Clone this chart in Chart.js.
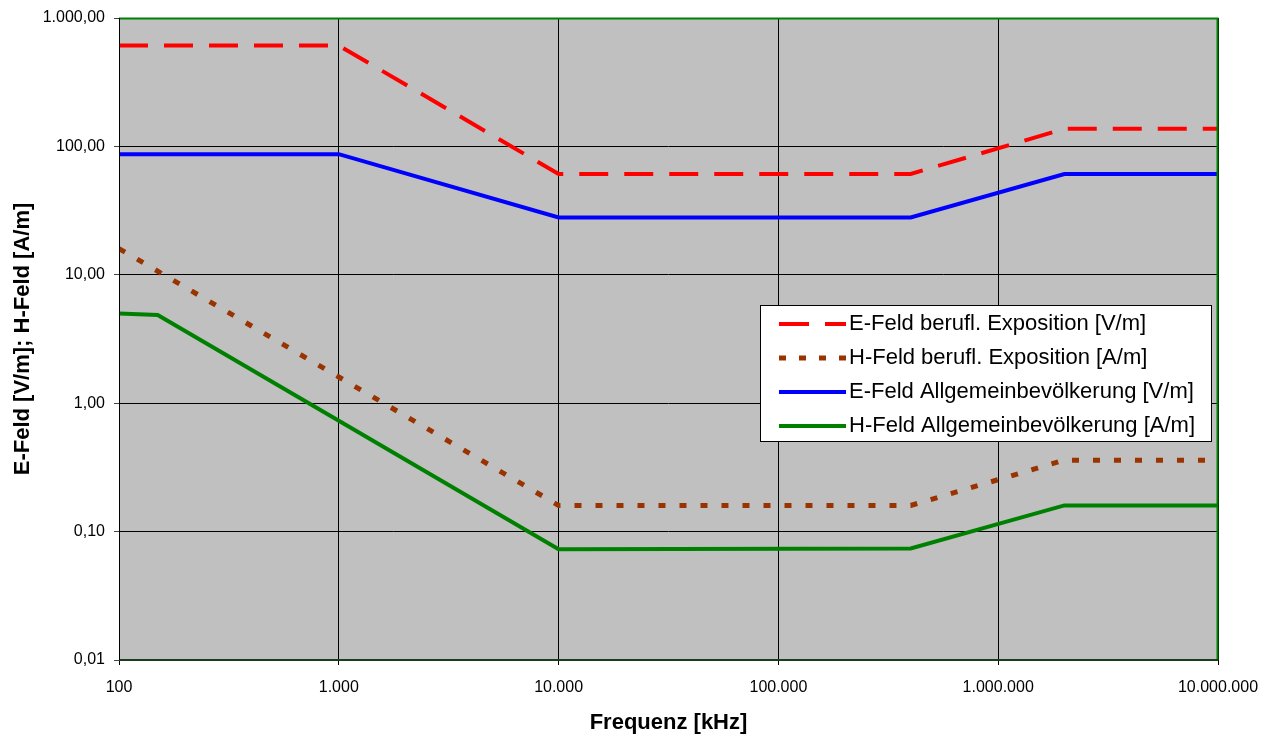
<!DOCTYPE html>
<html lang="de">
<head>
  <meta charset="UTF-8">
  <title>Grenzwerte E-Feld / H-Feld</title>
  <script src="https://cdn.jsdelivr.net/npm/chart.js"></script>
  <style>
    body { margin: 0; background: #fff; }
    #wrap { width: 1269px; height: 736px; position: relative; }
  </style>
</head>
<body>
  <div id="wrap"><canvas id="grafik"></canvas></div>

  <script>
    // Frequenzen in kHz
    const freqStufen = [100, 1000, 10000, 400000, 2000000, 10000000];
    const freqHAllg = [100, 150, 1000, 10000, 400000, 2000000, 10000000];

    const eBerufl = [610, 610, 61, 61, 137, 137];
    const hBerufl = [16, 1.6, 0.16, 0.16, 0.36, 0.36];
    const eAllg = [87, 87, 28, 28, 61, 61];
    const hAllg = [5, 4.87, 0.73, 0.073, 0.074, 0.16, 0.16];

    const xTicks = [100, 1000, 10000, 100000, 1000000, 10000000];
    const xTickLabels = ['100', '1.000', '10.000', '100.000', '1.000.000', '10.000.000'];
    const yTicks = [0.01, 0.1, 1, 10, 100, 1000];
    const yTickLabels = ['0,01', '0,10', '1,00', '10,00', '100,00', '1.000,00'];

    const schrift = "'Liberation Sans', Arial, sans-serif";

    function punkte(xs, ys) {
      return xs.map((x, i) => ({ x: x, y: ys[i] }));
    }

    // grauer Hintergrund der Zeichenfläche
    const hintergrund = {
      id: 'hintergrund',
      beforeDraw(chart) {
        const a = chart.chartArea, c = chart.ctx;
        c.save();
        c.fillStyle = '#C0C0C0';
        c.fillRect(a.left, a.top, a.right - a.left, a.bottom - a.top);
        c.restore();
      }
    };

    // Rahmen: oben/rechts grün, Achsen schwarz
    const rahmen = {
      id: 'rahmen',
      afterDatasetsDraw(chart) {
        const a = chart.chartArea, c = chart.ctx;
        c.save();
        c.strokeStyle = '#008000';
        c.lineWidth = 2;
        c.beginPath();
        c.moveTo(a.left, a.top + 0.5);
        c.lineTo(a.right - 0.5, a.top + 0.5);
        c.lineTo(a.right - 0.5, a.bottom);
        c.stroke();
        c.strokeStyle = '#1a3d1a';
        c.beginPath();
        c.moveTo(a.left, a.bottom);
        c.lineTo(a.right, a.bottom);
        c.stroke();
        c.strokeStyle = '#000';
        c.lineWidth = 1;
        c.beginPath();
        c.moveTo(a.left + 0.5, a.top);
        c.lineTo(a.left + 0.5, a.bottom);
        c.stroke();
        c.restore();
      }
    };

    // Legende als Kasten im Diagramm
    const legende = {
      id: 'legende',
      afterDraw(chart) {
        const c = chart.ctx;
        const bx = 760, by = 305, bw = 451, bh = 136;
        c.save();
        c.fillStyle = '#fff';
        c.fillRect(bx, by, bw, bh);
        c.strokeStyle = '#000';
        c.lineWidth = 1;
        c.strokeRect(bx + 0.5, by + 0.5, bw, bh);
        c.font = '22px ' + schrift;
        c.textBaseline = 'middle';
        c.fillStyle = '#000';
        chart.data.datasets.forEach((ds, i) => {
          const y = by + 19 + i * 34;
          c.strokeStyle = ds.borderColor;
          c.lineWidth = ds.borderWidth;
          c.setLineDash(ds.legendDash || []);
          c.beginPath();
          c.moveTo(779, y);
          c.lineTo(846, y);
          c.stroke();
          c.setLineDash([]);
          c.fillText(ds.label, 849, y);
        });
        c.restore();
      }
    };

    new Chart(document.getElementById('grafik'), {
      type: 'scatter',
      data: {
        datasets: [
          {
            label: 'E-Feld berufl. Exposition [V/m]',
            data: punkte(freqStufen, eBerufl),
            borderColor: '#FF0000',
            borderWidth: 4,
            borderDash: [29, 16],
            legendDash: [30, 16],
            showLine: true,
            pointRadius: 0
          },
          {
            label: 'H-Feld berufl. Exposition [A/m]',
            data: punkte(freqStufen, hBerufl),
            borderColor: '#993300',
            borderWidth: 5,
            borderDash: [7, 14],
            legendDash: [7, 13],
            showLine: true,
            pointRadius: 0
          },
          {
            label: 'E-Feld Allgemeinbevölkerung [V/m]',
            data: punkte(freqStufen, eAllg),
            borderColor: '#0000FF',
            borderWidth: 4,
            showLine: true,
            pointRadius: 0
          },
          {
            label: 'H-Feld Allgemeinbevölkerung [A/m]',
            data: punkte(freqHAllg, hAllg),
            borderColor: '#008000',
            borderWidth: 4,
            showLine: true,
            pointRadius: 0
          }
        ]
      },
      options: {
        responsive: true,
        maintainAspectRatio: false,
        animation: false,
        layout: { padding: { top: 18, right: 51, left: 0, bottom: 0 } },
        plugins: {
          legend: { display: false },
          tooltip: { enabled: false }
        },
        scales: {
          x: {
            type: 'logarithmic',
            min: 100,
            max: 10000000,
            afterBuildTicks: ax => { ax.ticks = xTicks.map(v => ({ value: v })); },
            afterFit: ax => { ax.height = 76; ax.paddingLeft = 0; ax.paddingRight = 0; },
            ticks: {
              autoSkip: false,
              maxRotation: 0,
              padding: 13,
              color: '#000',
              font: { family: schrift, size: 16 },
              callback: (v) => xTickLabels[xTicks.indexOf(v)]
            },
            grid: { color: '#000', lineWidth: 1, tickLength: 5, tickColor: '#000' },
            border: { display: false },
            title: {
              display: true,
              text: 'Frequenz [kHz]',
              color: '#000',
              font: { family: schrift, size: 22, weight: 'bold' },
              padding: { top: 4, bottom: 0 }
            }
          },
          y: {
            type: 'logarithmic',
            min: 0.01,
            max: 1000,
            afterBuildTicks: ax => { ax.ticks = yTicks.map(v => ({ value: v })); },
            afterFit: ax => { ax.width = 119; ax.paddingTop = 0; ax.paddingBottom = 0; },
            ticks: {
              autoSkip: false,
              padding: 9,
              color: '#000',
              font: { family: schrift, size: 16 },
              callback: (v) => yTickLabels[yTicks.indexOf(v)]
            },
            grid: { color: '#000', lineWidth: 1, tickLength: 5, tickColor: '#444' },
            border: { display: false },
            title: {
              display: true,
              text: 'E-Feld [V/m]; H-Feld [A/m]',
              color: '#000',
              font: { family: schrift, size: 22, weight: 'bold' },
              padding: { top: 10, bottom: 8 }
            }
          }
        }
      },
      plugins: [hintergrund, rahmen, legende]
    });
  </script>
</body>
</html>
